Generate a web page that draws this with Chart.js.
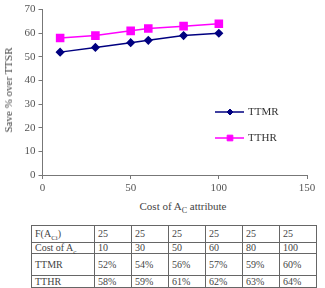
<!DOCTYPE html>
<html>
<head>
<meta charset="utf-8">
<script src="https://cdn.jsdelivr.net/npm/chart.js@4/dist/chart.umd.min.js"></script>
<style>
  body { margin: 0; background: #fff; }
  #wrap { position: relative; width: 325px; height: 288px; font-family: "Liberation Serif", serif; color: #444; }
  #box { position: absolute; left: 0; top: 0; width: 325px; height: 200px; }
  #xtitle { position: absolute; left: 0; width: 366px; top: 200px; text-align: center; font-size: 11px; color: #444; }
  #xtitle sub { font-size: 8px; }
  #ytitle { position: absolute; left: 8px; top: 90px; transform: translate(-50%, -50%) rotate(-90deg); white-space: nowrap; font-size: 11px; font-weight: normal; color: #444; }
  table { position: absolute; left: 31px; top: 225px; border-collapse: collapse; font-size: 10px; color: #444; table-layout: fixed; }
  td { border: 1px solid #666; padding: 0 3px; line-height: 10px; white-space: nowrap; }
  td sub { font-size: 7px; line-height: 0; }
  td.h { width: 56px; }
  td.v { width: 30px; }
</style>
</head>
<body>
<div id="wrap">
  <div id="box"><canvas id="chart1" width="325" height="200"></canvas></div>
  <div id="ytitle">Save % over TTSR</div>
  <div id="xtitle">Cost of A<sub>C</sub> attribute</div>
  <table id="tbl"></table>
</div>
<script>
// Dados
const costs = [10, 30, 50, 60, 80, 100];
const fValues = [25, 25, 25, 25, 25, 25];
const ttmr = [52, 54, 56, 57, 59, 60];
const tthr = [58, 59, 61, 62, 63, 64];
const yTicks = [0, 10, 20, 30, 40, 50, 60, 70];
const xTicks = [0, 50, 100, 150];

// Tabela
const rows = [
    ['F(A<sub>Ci</sub>)', fValues.map(String), 17],
    ['Cost of A<sub>c</sub>', costs.map(String), 11],
    ['TTMR', ttmr.map(v => v + '%'), 22],
    ['TTHR', tthr.map(v => v + '%'), 12]
];
let html = '';
rows.forEach(function(r) {
    html += '<tr style="height:' + r[2] + 'px"><td class="h">' + r[0] + '</td>';
    r[1].forEach(function(v) { html += '<td class="v">' + v + '</td>'; });
    html += '</tr>';
});
document.getElementById('tbl').innerHTML = html;

// Legenda dentro do gráfico
const legendInside = {
    id: 'legendInside',
    afterDraw(chart) {
        const ctx = chart.ctx;
        const ys = [112, 138];
        const sizes = [3, 4];
        chart.data.datasets.forEach(function(ds, i) {
            const y = ys[i];
            ctx.save();
            ctx.strokeStyle = ds.borderColor;
            ctx.lineWidth = ds.borderWidth;
            ctx.beginPath();
            ctx.moveTo(215, y);
            ctx.lineTo(244, y);
            ctx.stroke();
            ctx.fillStyle = ds.pointBackgroundColor;
            ctx.strokeStyle = ds.pointBackgroundColor;
            ctx.lineWidth = 1;
            Chart.helpers.drawPoint(ctx, {pointStyle: ds.pointStyle, rotation: 0, borderWidth: 1, radius: sizes[i]}, 230, y);
            ctx.fillStyle = '#333';
            ctx.font = '11px "Liberation Serif"';
            ctx.textBaseline = 'middle';
            ctx.fillText(ds.label, 248, y);
            ctx.restore();
        });
    }
};

const data1 = {
    datasets: [{
        label: 'TTMR',
        data: costs.map((c, i) => ({x: c, y: ttmr[i]})),
        borderColor: '#000080',
        backgroundColor: '#000080',
        pointBackgroundColor: '#000080',
        pointBorderColor: '#000080',
        pointStyle: 'rectRot',
        pointRadius: 3.5,
        borderWidth: 1.5
    }, {
        label: 'TTHR',
        data: costs.map((c, i) => ({x: c, y: tthr[i]})),
        borderColor: '#ff00ff',
        backgroundColor: '#ff00ff',
        pointBackgroundColor: '#ff00ff',
        pointBorderColor: '#ff00ff',
        pointStyle: 'rect',
        pointRadius: 5,
        borderWidth: 1.5
    }]
};

const tickFont = {family: '"Liberation Serif"', size: 11};

const config1 = {
    type: 'line',
    data: data1,
    options: {
        responsive: false,
        animation: false,
        layout: {padding: {left: 0, right: 18, top: 5, bottom: 0}},
        plugins: {legend: {display: false}, tooltip: {enabled: false}},
        scales: {
            x: {
                type: 'linear',
                min: 0, max: 150,
                afterBuildTicks: s => { s.ticks = xTicks.map(v => ({value: v})); },
                ticks: {color: '#555', font: tickFont, padding: 3, maxRotation: 0},
                grid: {drawOnChartArea: false, drawTicks: true, tickLength: 4, color: '#777'},
                border: {color: '#777', width: 1},
                afterFit: s => { s.height = 25; }
            },
            y: {
                min: 0, max: 70,
                afterBuildTicks: s => { s.ticks = yTicks.map(v => ({value: v})); },
                ticks: {color: '#555', font: tickFont, padding: 3},
                grid: {drawOnChartArea: false, drawTicks: true, tickLength: 4, color: '#777'},
                border: {color: '#777', width: 1},
                afterFit: s => { s.width = 42.5; }
            }
        }
    },
    plugins: [legendInside]
};

const chart1 = new Chart(document.getElementById('chart1'), config1);
</script>
</body>
</html>
